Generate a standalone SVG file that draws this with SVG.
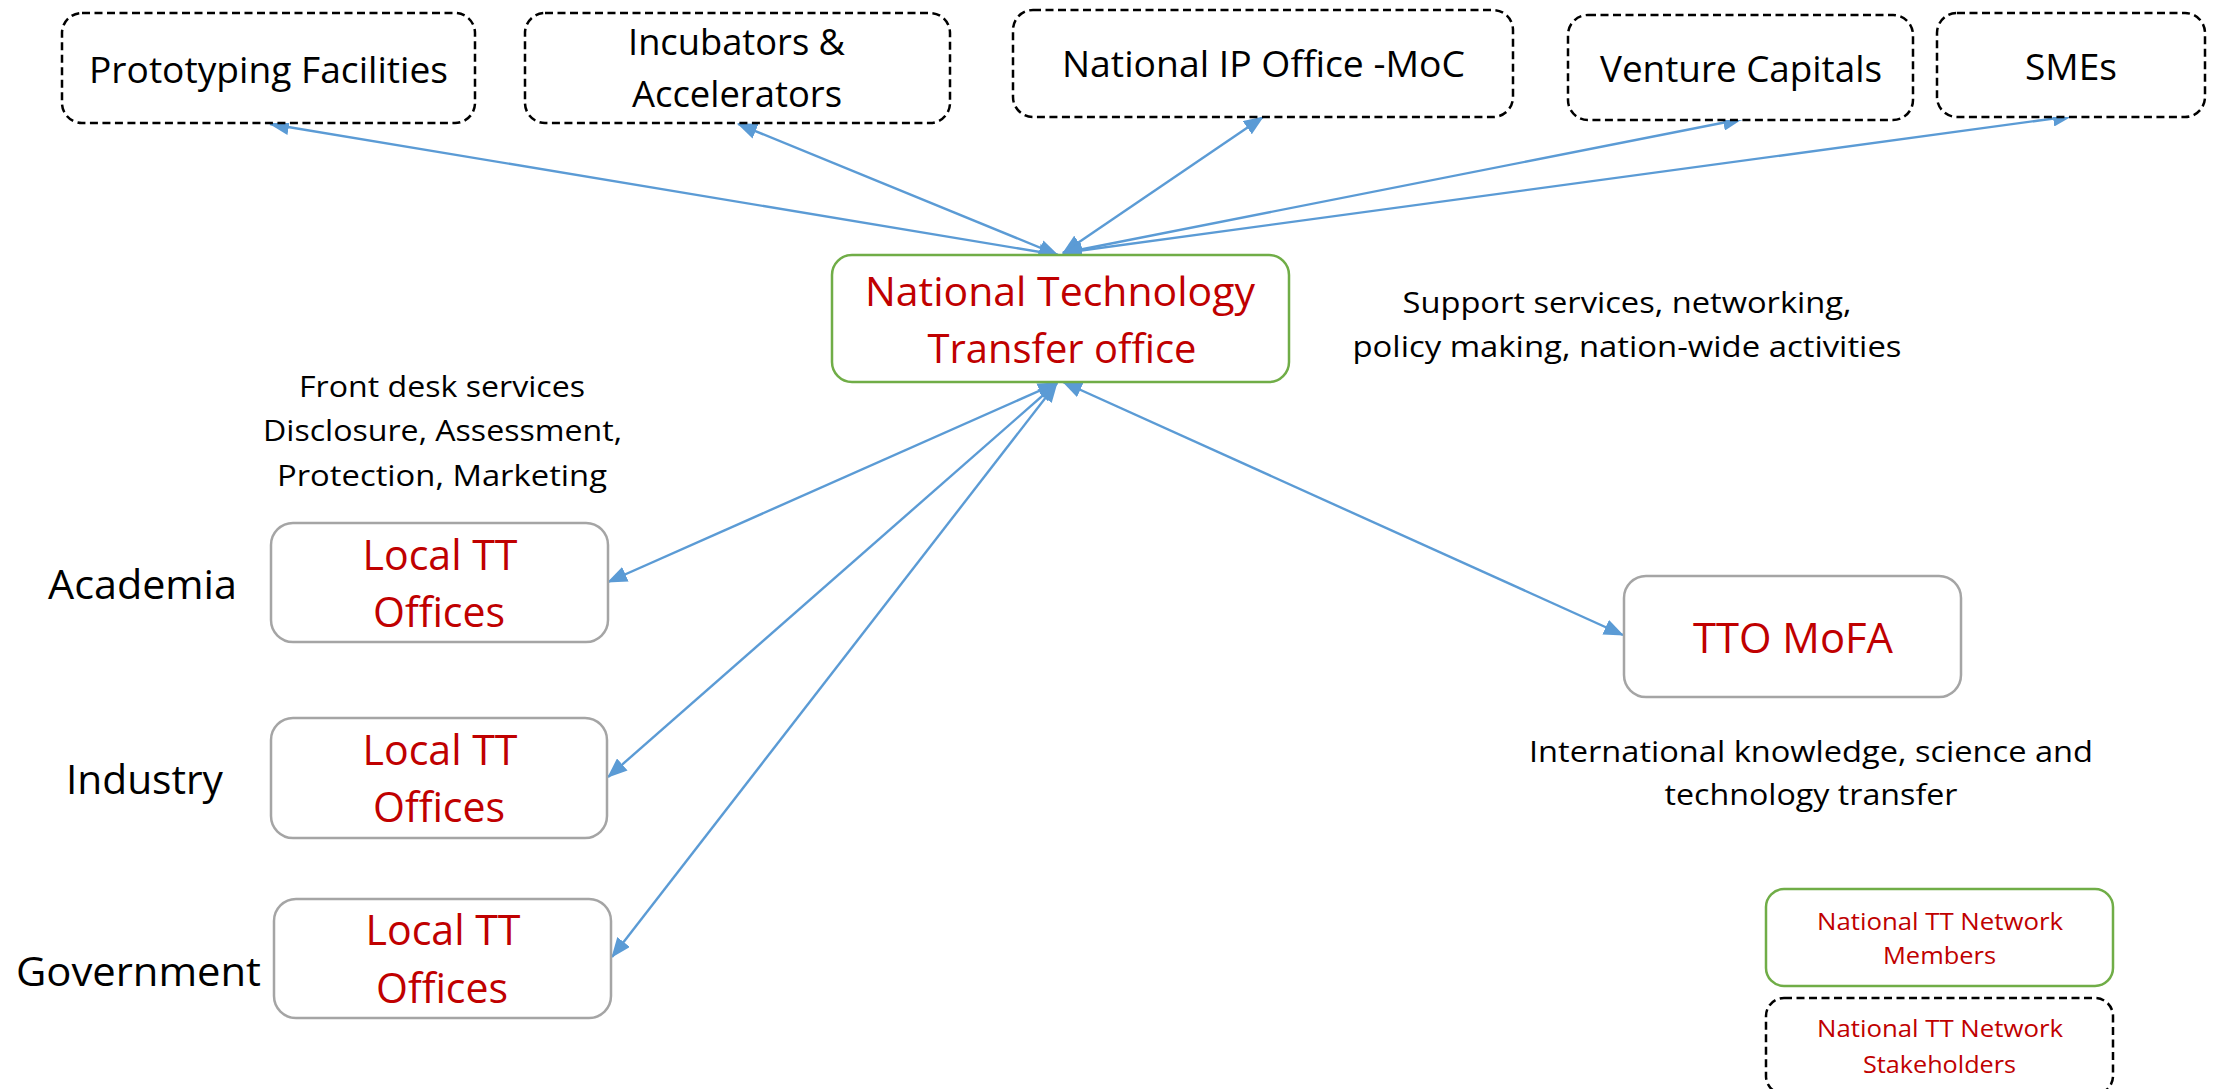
<svg xmlns="http://www.w3.org/2000/svg" width="2216" height="1089" viewBox="0 0 2216 1089">
  <defs>
    <marker id="ah" markerUnits="userSpaceOnUse" markerWidth="20" markerHeight="16" refX="19" refY="8" orient="auto-start-reverse" viewBox="0 0 20 16">
      <path d="M0,0 L20,8 L0,16 z" fill="#5B9BD5"/>
    </marker>
  </defs>
  <style>
    text { font-family: "Open Sans", "Liberation Sans", sans-serif; text-anchor: middle; }
    .stake { fill: #FFFFFF; stroke: #000000; stroke-width: 2.5; stroke-dasharray: 8 4.5; }
    .local { fill: #FFFFFF; stroke: #A5A5A5; stroke-width: 2.5; }
    .member { fill: #FFFFFF; stroke: #70AD47; stroke-width: 2.5; }
    .blk { fill: #000000; }
    .red { fill: #C00000; }
    .conn line { stroke: #5B9BD5; stroke-width: 2.4; marker-start: url(#ah); marker-end: url(#ah); }
  </style>
  <rect width="2216" height="1089" fill="#FFFFFF"/>

  <g id="connectors" class="conn">
    <line x1="270" y1="124" x2="1058" y2="255"/>
    <line x1="738" y1="124" x2="1058" y2="255"/>
    <line x1="1263" y1="117" x2="1063" y2="253"/>
    <line x1="1742" y1="119" x2="1063" y2="253"/>
    <line x1="2072" y1="116" x2="1063" y2="253"/>
    <line x1="608" y1="582" x2="1057" y2="383"/>
    <line x1="608" y1="777" x2="1057" y2="383"/>
    <line x1="612" y1="957" x2="1057" y2="383"/>
    <line x1="1623" y1="635" x2="1063" y2="382"/>
  </g>

  <g id="prototyping">
    <rect class="stake" x="62" y="13" width="413" height="110" rx="20"/>
    <text class="blk" x="268.5" y="83" font-size="37" textLength="359" lengthAdjust="spacingAndGlyphs">Prototyping Facilities</text>
  </g>
  <g id="incubators">
    <rect class="stake" x="525" y="13" width="425" height="110" rx="20"/>
    <text class="blk" x="736.5" y="55" font-size="37" textLength="217" lengthAdjust="spacingAndGlyphs">Incubators &amp;</text>
    <text class="blk" x="737" y="107" font-size="37" textLength="210" lengthAdjust="spacingAndGlyphs">Accelerators</text>
  </g>
  <g id="nipo">
    <rect class="stake" x="1013" y="10" width="500" height="107" rx="20"/>
    <text class="blk" x="1263.5" y="77" font-size="37" textLength="403" lengthAdjust="spacingAndGlyphs">National IP Office -MoC</text>
  </g>
  <g id="venture">
    <rect class="stake" x="1568" y="15" width="345" height="105" rx="20"/>
    <text class="blk" x="1741" y="82" font-size="37" textLength="282" lengthAdjust="spacingAndGlyphs">Venture Capitals</text>
  </g>
  <g id="smes">
    <rect class="stake" x="1937" y="13" width="268" height="104" rx="20"/>
    <text class="blk" x="2071" y="80" font-size="37" textLength="92" lengthAdjust="spacingAndGlyphs">SMEs</text>
  </g>

  <g id="ntto">
    <rect class="member" x="832" y="255" width="457" height="127" rx="20"/>
    <text class="red" x="1060" y="306" font-size="41" textLength="390" lengthAdjust="spacingAndGlyphs">National Technology</text>
    <text class="red" x="1062" y="363" font-size="41" textLength="269" lengthAdjust="spacingAndGlyphs">Transfer office</text>
  </g>

  <g id="support-label">
    <text class="blk" x="1627" y="313" font-size="29" textLength="449" lengthAdjust="spacingAndGlyphs">Support services, networking,</text>
    <text class="blk" x="1627" y="357" font-size="29" textLength="549" lengthAdjust="spacingAndGlyphs">policy making, nation-wide activities</text>
  </g>

  <g id="frontdesk-label">
    <text class="blk" x="442" y="397" font-size="29" textLength="286" lengthAdjust="spacingAndGlyphs">Front desk services</text>
    <text class="blk" x="442.5" y="441" font-size="29" textLength="359" lengthAdjust="spacingAndGlyphs">Disclosure, Assessment,</text>
    <text class="blk" x="442" y="486" font-size="29" textLength="330" lengthAdjust="spacingAndGlyphs">Protection, Marketing</text>
  </g>

  <g id="academia-label">
    <text class="blk" x="142.5" y="599" font-size="41" textLength="189" lengthAdjust="spacingAndGlyphs">Academia</text>
  </g>
  <g id="local-academia">
    <rect class="local" x="271" y="523" width="337" height="119" rx="22"/>
    <text class="red" x="440" y="570" font-size="42" textLength="155" lengthAdjust="spacingAndGlyphs">Local TT</text>
    <text class="red" x="439" y="627" font-size="42" textLength="132" lengthAdjust="spacingAndGlyphs">Offices</text>
  </g>

  <g id="industry-label">
    <text class="blk" x="144.5" y="794" font-size="41" textLength="157" lengthAdjust="spacingAndGlyphs">Industry</text>
  </g>
  <g id="local-industry">
    <rect class="local" x="271" y="718" width="336" height="120" rx="22"/>
    <text class="red" x="440" y="765" font-size="42" textLength="155" lengthAdjust="spacingAndGlyphs">Local TT</text>
    <text class="red" x="439" y="822" font-size="42" textLength="132" lengthAdjust="spacingAndGlyphs">Offices</text>
  </g>

  <g id="government-label">
    <text class="blk" x="138.5" y="986" font-size="41" textLength="245" lengthAdjust="spacingAndGlyphs">Government</text>
  </g>
  <g id="local-government">
    <rect class="local" x="274" y="899" width="337" height="119" rx="22"/>
    <text class="red" x="443" y="945" font-size="42" textLength="155" lengthAdjust="spacingAndGlyphs">Local TT</text>
    <text class="red" x="442" y="1003" font-size="42" textLength="132" lengthAdjust="spacingAndGlyphs">Offices</text>
  </g>

  <g id="tto-mofa">
    <rect class="local" x="1624" y="576" width="337" height="121" rx="22"/>
    <text class="red" x="1793" y="653" font-size="42" textLength="200" lengthAdjust="spacingAndGlyphs">TTO MoFA</text>
  </g>

  <g id="international-label">
    <text class="blk" x="1811" y="762" font-size="29" textLength="564" lengthAdjust="spacingAndGlyphs">International knowledge, science and</text>
    <text class="blk" x="1811" y="805" font-size="29" textLength="293" lengthAdjust="spacingAndGlyphs">technology transfer</text>
  </g>

  <g id="legend-members">
    <rect class="member" x="1766" y="889" width="347" height="97" rx="18"/>
    <text class="red" x="1940" y="930" font-size="24" textLength="246" lengthAdjust="spacingAndGlyphs">National TT Network</text>
    <text class="red" x="1939.5" y="964" font-size="24" textLength="113" lengthAdjust="spacingAndGlyphs">Members</text>
  </g>
  <g id="legend-stakeholders">
    <rect class="stake" x="1766" y="998" width="347" height="96" rx="18"/>
    <text class="red" x="1940" y="1037" font-size="24" textLength="246" lengthAdjust="spacingAndGlyphs">National TT Network</text>
    <text class="red" x="1939.5" y="1073" font-size="24" textLength="153" lengthAdjust="spacingAndGlyphs">Stakeholders</text>
  </g>
</svg>
